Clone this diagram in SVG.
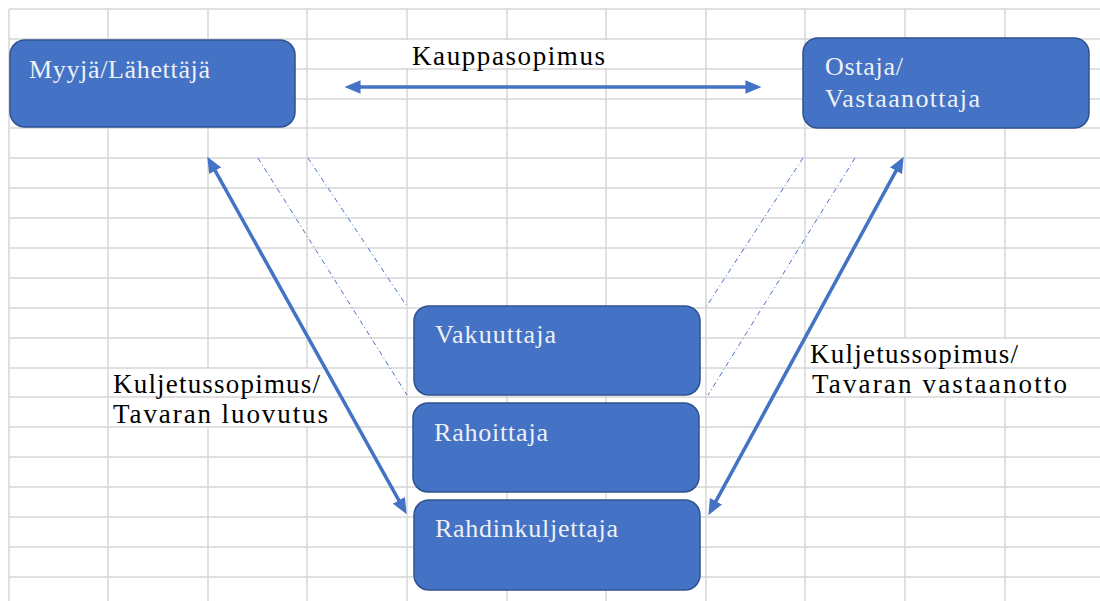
<svg xmlns="http://www.w3.org/2000/svg" width="1100" height="601" viewBox="0 0 1100 601">
<style>
.g{stroke:#d6d6d6;stroke-width:1.5;fill:none}
.box{fill:#4472C4;stroke:#2F528F;stroke-width:1.5}
.bt{font-family:"Liberation Serif","DejaVu Serif",serif;font-size:26px;fill:#eef0f6}
.lt{font-family:"Liberation Serif","DejaVu Serif",serif;font-size:27px;fill:#000}
.ar{stroke:#4472C4;stroke-width:3.5;fill:none;marker-start:url(#ah);marker-end:url(#ah)}
.dd{stroke:#4472C4;stroke-width:1;fill:none;stroke-dasharray:5 3 1 3}
</style>
<defs>
<marker id="ah" markerUnits="userSpaceOnUse" markerWidth="16" markerHeight="14" viewBox="0 0 14 12" refX="4" refY="6" orient="auto-start-reverse">
<path d="M0,0 L14,6 L0,12 z" fill="#4472C4"/>
</marker>
</defs>
<rect width="1100" height="601" fill="#fff"/>
<g id="grid">
<path class="g" d="M9,9V601M108,9V601M208,9V601M307,9V601M407,9V601M507,9V601M606,9V601M706,9V601M805,9V601M905,9V601M1005,9V601"/>
<rect x="402" y="40" width="209" height="28" fill="#fff"/>
<rect x="900" y="339" width="110" height="58" fill="#fff"/>
<rect x="203" y="369" width="110" height="58" fill="#fff"/>
<path class="g" d="M9,9H1100M9,39H1100M9,69H1100M9,99H1100M9,128H1100M9,158H1100M9,188H1100M9,218H1100M9,248H1100M9,278H1100M9,308H1100M9,338H1100M9,368H1100M9,397H1100M9,427H1100M9,457H1100M9,487H1100M9,517H1100M9,547H1100M9,577H1100"/>
</g>
<g id="connectors">
<line class="ar" x1="356" y1="87" x2="750" y2="87"/>
<line class="ar" x1="212.9" y1="166.7" x2="401.1" y2="504.3"/>
<line class="ar" x1="898.2" y1="166.8" x2="713.8" y2="505.2"/>
<line class="dd" x1="258" y1="158" x2="407" y2="395"/>
<line class="dd" x1="308" y1="158" x2="406" y2="305"/>
<line class="dd" x1="803" y1="158" x2="706" y2="307"/>
<line class="dd" x1="855" y1="158" x2="708" y2="395"/>
</g>
<g id="labels">
<text class="lt" x="412" y="65" textLength="193" lengthAdjust="spacing">Kauppasopimus</text>
<text class="lt" x="113" y="393" textLength="207" lengthAdjust="spacing">Kuljetussopimus/</text>
<text class="lt" x="113" y="423" textLength="215" lengthAdjust="spacing">Tavaran luovutus</text>
<text class="lt" x="810" y="363" textLength="208" lengthAdjust="spacing">Kuljetussopimus/</text>
<text class="lt" x="812" y="393" textLength="255" lengthAdjust="spacing">Tavaran vastaanotto</text>
</g>
<g id="myyja">
<rect class="box" x="10" y="40" width="285" height="87" rx="15"/>
<text class="bt" x="29" y="78" textLength="181" lengthAdjust="spacing">Myyjä/Lähettäjä</text>
</g>
<g id="ostaja">
<rect class="box" x="803" y="38" width="286" height="90" rx="15"/>
<text class="bt" x="825" y="75" textLength="78" lengthAdjust="spacing">Ostaja/</text>
<text class="bt" x="825" y="107" textLength="155" lengthAdjust="spacing">Vastaanottaja</text>
</g>
<g id="vakuuttaja">
<rect class="box" x="414" y="306" width="286" height="89" rx="15"/>
<text class="bt" x="435" y="343" textLength="121" lengthAdjust="spacing">Vakuuttaja</text>
</g>
<g id="rahoittaja">
<rect class="box" x="413" y="403" width="286" height="89" rx="15"/>
<text class="bt" x="434" y="441" textLength="114" lengthAdjust="spacing">Rahoittaja</text>
</g>
<g id="rahdinkuljettaja">
<rect class="box" x="414" y="500" width="286" height="90" rx="15"/>
<text class="bt" x="435" y="537" textLength="183" lengthAdjust="spacing">Rahdinkuljettaja</text>
</g>
</svg>
